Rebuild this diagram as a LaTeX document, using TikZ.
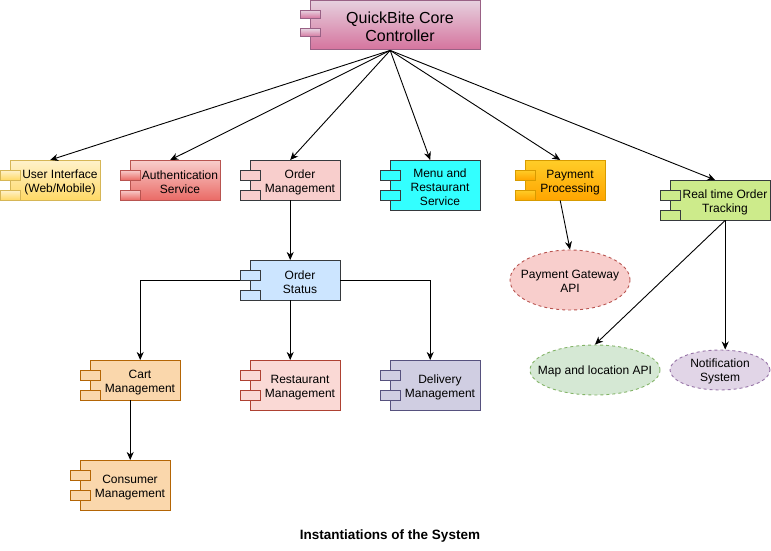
\documentclass[tikz,border=0pt]{standalone}
\usepackage{fontspec}
\setmainfont{Liberation Sans}
\usetikzlibrary{arrows.meta,shapes.geometric}
\definecolor{coreT}{HTML}{E6D0DE}\definecolor{coreB}{HTML}{D5739D}\definecolor{coreS}{HTML}{996185}
\definecolor{uiT}{HTML}{FFF2CC}\definecolor{uiB}{HTML}{FFD966}\definecolor{uiS}{HTML}{D6B656}
\definecolor{auT}{HTML}{F8CECC}\definecolor{auB}{HTML}{EA6B66}\definecolor{auS}{HTML}{B85450}
\definecolor{omF}{HTML}{F8CECC}\definecolor{darkS}{HTML}{36393D}
\definecolor{mnF}{HTML}{33FFFF}
\definecolor{ppT}{HTML}{FFCD28}\definecolor{ppB}{HTML}{FFA500}\definecolor{ppS}{HTML}{D79B00}
\definecolor{rtF}{HTML}{CDEB8B}
\definecolor{osF}{HTML}{CCE5FF}
\definecolor{caF}{HTML}{FAD7AC}\definecolor{caS}{HTML}{B46504}
\definecolor{rmF}{HTML}{FAD9D5}\definecolor{rmS}{HTML}{AE4132}
\definecolor{dmF}{HTML}{D0CEE2}\definecolor{dmS}{HTML}{56517E}
\definecolor{gwF}{HTML}{F8CECC}\definecolor{gwS}{HTML}{B85450}
\definecolor{mpF}{HTML}{D5E8D4}\definecolor{mpS}{HTML}{82B366}
\definecolor{ntF}{HTML}{E1D5E7}\definecolor{ntS}{HTML}{9673A6}
\newcommand{\compbox}[7]{%
  \node[inner sep=0,minimum width=#4pt,minimum height=#5pt,anchor=north west] (#1) at (#2,#3) {};
  \path[#6,boxline] (#2+10,#3) rectangle (#2+#4,#3+#5);
  \path[#6,boxline] (#2,#3+10) rectangle (#2+20,#3+20);
  \path[#6,boxline] (#2,#3+30) rectangle (#2+20,#3+40);
  \node[lbl] (#1-t) at (#2+#4/2+10,#3+#5/2+2.5) {#7};
}
\begin{document}
\begin{tikzpicture}[x=1pt,y=-1pt,
  boxline/.style={line width=1pt},
  lbl/.style={font=\fontsize{12}{14}\selectfont,align=center,inner sep=0},
  arr/.style={-{Stealth[length=8pt,width=7pt,inset=2.5pt]},line width=0.9pt,black},
  ell/.style={ellipse,inner sep=0,line width=0.9pt,dash pattern=on 3pt off 3pt},
  corest/.style={top color=coreT,bottom color=coreB,draw=coreS},
  uist/.style={top color=uiT,bottom color=uiB,draw=uiS},
  aust/.style={top color=auT,bottom color=auB,draw=auS},
  omst/.style={fill=omF,draw=darkS},
  mnst/.style={fill=mnF,draw=darkS},
  ppst/.style={top color=ppT,bottom color=ppB,draw=ppS},
  rtst/.style={fill=rtF,draw=darkS},
  osst/.style={fill=osF,draw=darkS},
  cast/.style={fill=caF,draw=caS},
  rmst/.style={fill=rmF,draw=rmS},
  dmst/.style={fill=dmF,draw=dmS}]
\useasboundingbox (0,0) rectangle (771,551);
% core
\node[inner sep=0,minimum width=180pt,minimum height=50pt,anchor=north west] (core) at (300,0) {};
\path[corest,boxline] (310,0.5) rectangle (480,50);
\path[corest,boxline] (300,10.5) rectangle (320,18.5);
\path[corest,boxline] (300,29) rectangle (320,37);
\node[font=\fontsize{16}{18.5}\selectfont,align=center,inner sep=0] (core-t) at (400,27) {QuickBite Core\\Controller};
% components
\compbox{ui}{0}{160}{100}{40}{uist}{User Interface\\(Web/Mobile)}
\compbox{au}{120}{160}{100}{40}{aust}{Authentication\\Service}
\compbox{om}{240}{160}{100}{40}{omst}{Order\\Management}
\compbox{mn}{380}{160}{100}{50}{mnst}{Menu and\\Restaurant\\Service}
\compbox{pp}{515}{160}{90}{40}{ppst}{Payment\\Processing}
\compbox{rt}{660}{180}{110}{40}{rtst}{Real time Order\\Tracking}
\compbox{os}{240}{260}{100}{40}{osst}{Order\\Status}
\compbox{ca}{80}{360}{100}{40}{cast}{Cart\\Management}
\compbox{rm}{240}{360}{100}{50}{rmst}{Restaurant\\Management}
\compbox{dm}{380}{360}{100}{50}{dmst}{Delivery\\Management}
\compbox{cm}{70}{460}{100}{50}{cast}{Consumer\\Management}
% ellipses
\node[ell,fill=gwF,draw=gwS,minimum width=120pt,minimum height=60pt] (gw) at (570,280) {};
\node[lbl] (gw-t) at (570,281.5) {Payment Gateway\\API};
\node[ell,fill=mpF,draw=mpS,minimum width=130pt,minimum height=50pt] (mp) at (595,370) {};
\node[lbl] (mp-t) at (595,371) {Map and location API};
\node[ell,fill=ntF,draw=ntS,minimum width=100pt,minimum height=40pt] (nt) at (720,370) {};
\node[lbl] (nt-t) at (720,371.5) {Notification\\System};
% edges
\draw[arr] (core.south) -- (ui.north);
\draw[arr] (core.south) -- (au.north);
\draw[arr] (core.south) -- (om.north);
\draw[arr] (core.south) -- (mn.north);
\draw[arr] (core.south) -- (pp.north);
\draw[arr] (core.south) -- (rt.north);
\draw[arr] (om.south) -- (os.north);
\coordinate (cat) at ([xshift=10pt]ca.north);
\draw[arr] (os.west) -- (os.west -| cat) -- (cat);
\draw[arr] (os.south) -- (rm.north);
\draw[arr] (os.east) -- (os.east -| dm.north) -- (dm.north);
\draw[arr] (ca.south) -- (ca.south |- cm.north);
\draw[arr] (pp.south) -- (gw.north);
\coordinate (rtb) at ([xshift=10pt]rt.south);
\draw[arr] (rtb) -- (mp.north);
\draw[arr] (rtb) -- (rtb |- nt.north);
% title
\node[font=\bfseries\fontsize{13.5}{16}\selectfont,inner sep=0] (title) at (390,536) {Instantiations of the System};
\end{tikzpicture}
\end{document}
